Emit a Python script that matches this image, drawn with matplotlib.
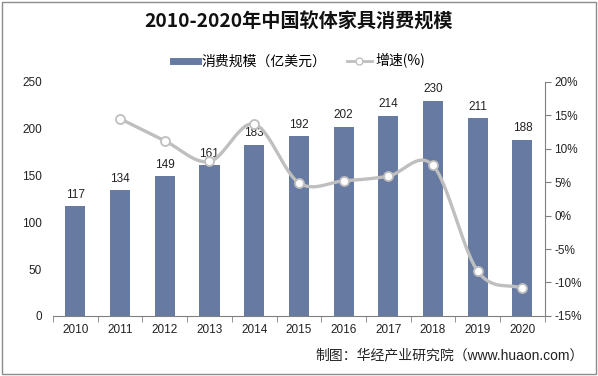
import numpy as np
import matplotlib
matplotlib.use("Agg")
import matplotlib.pyplot as plt
from matplotlib.lines import Line2D
from matplotlib.patches import Rectangle
from matplotlib.ticker import FuncFormatter, FixedLocator

plt.rcParams['font.family'] = ['Liberation Sans', 'Noto Sans CJK SC', 'DejaVu Sans']

years = ['2010', '2011', '2012', '2013', '2014', '2015', '2016', '2017', '2018', '2019', '2020']
scale = [117, 134, 149, 161, 183, 192, 202, 214, 230, 211, 188]
growth = [None, 14.5, 11.2, 8.1, 13.7, 4.9, 5.2, 5.9, 7.5, -8.3, -10.9]

bar_color = '#667aa2'
line_color = '#bfbfbf'
txt_color = '#222222'


def smooth(xs, ys, n=30):
    # catmull-rom curve through the points, like Excel's smoothed line
    xs = np.asarray(xs, float)
    ys = np.asarray(ys, float)
    px = np.concatenate([[2 * xs[0] - xs[1]], xs, [2 * xs[-1] - xs[-2]]])
    py = np.concatenate([[2 * ys[0] - ys[1]], ys, [2 * ys[-1] - ys[-2]]])
    ox, oy = [], []
    t = np.linspace(0, 1, n)
    for i in range(1, len(px) - 2):
        p0, p1, p2, p3 = [np.array([px[j], py[j]]) for j in range(i - 1, i + 3)]
        c1 = p1 + (p2 - p0) / 6
        c2 = p2 - (p3 - p1) / 6
        pts = ((1 - t) ** 3)[:, None] * p1 + (3 * (1 - t) ** 2 * t)[:, None] * c1 \
            + (3 * (1 - t) * t ** 2)[:, None] * c2 + (t ** 3)[:, None] * p2
        ox.extend(pts[:, 0])
        oy.extend(pts[:, 1])
    return ox, oy


fig = plt.figure(figsize=(5.98, 3.76), dpi=100)
ax = fig.add_axes([0.0886, 0.160, 0.8224, 0.622])
x = np.arange(len(years))

ax.bar(x, scale, width=0.45, color=bar_color, zorder=2)
for xi, v in zip(x, scale):
    ax.text(xi, v + 6, str(v), ha='center', va='bottom', fontsize=8.5, color=txt_color, zorder=5)

ax.set_xlim(-0.5, len(years) - 0.5)
ax.set_ylim(0, 250)
ax.set_yticks(range(0, 251, 50))
ax.set_xticks(x)
ax.set_xticklabels(years)
ax.xaxis.set_minor_locator(FixedLocator(np.arange(-0.5, len(years), 1)))
ax.tick_params(axis='x', which='major', length=0, labelsize=8.5, colors=txt_color, pad=6)
ax.tick_params(axis='x', which='minor', length=4, color='#808080', direction='out')
ax.tick_params(axis='y', length=0, labelsize=8.5, colors=txt_color, pad=8)
for s in ['top', 'right', 'left']:
    ax.spines[s].set_visible(False)
ax.spines['bottom'].set_color('#808080')

ax2 = ax.twinx()
gx = [xi for xi, g in zip(x, growth) if g is not None]
gy = [g for g in growth if g is not None]
sx, sy = smooth(gx, gy)
ax2.plot(sx, sy, color=line_color, lw=2.4, zorder=3, solid_capstyle='round')
ax2.plot(gx, gy, 'o', ms=6.5, mfc='white', mec=line_color, mew=1.3, zorder=4)
ax2.set_ylim(-15, 20)
ax2.set_yticks(range(-15, 21, 5))
ax2.yaxis.set_major_formatter(FuncFormatter(lambda v, p: f'{int(v)}%'))
ax2.tick_params(axis='y', length=4, color='#808080', labelsize=8.5, labelcolor=txt_color, pad=3)
for s in ['top', 'left', 'bottom']:
    ax2.spines[s].set_visible(False)
ax2.spines['right'].set_color('#808080')

fig.text(0.5, 0.942, '2010-2020年中国软体家具消费规模', ha='center', va='center',
         fontsize=13.8, fontweight='bold', color='#111111',
         family=['Noto Sans CJK SC', 'DejaVu Sans'])

handles = [Line2D([0], [0], color=bar_color, lw=5),
           Line2D([0], [0], color=line_color, lw=2, marker='o', ms=5, mfc='white', mec=line_color)]
fig.legend(handles, ['消费规模（亿美元）', '增速(%)'], loc='center', bbox_to_anchor=(0.5, 0.838),
           ncol=2, frameon=False, handlelength=1.8, handletextpad=0.25, columnspacing=1.5,
           prop={'family': ['Noto Sans CJK SC', 'DejaVu Sans'], 'size': 10})

fig.text(0.977, 0.055, '制图：华经产业研究院（www.huaon.com）', ha='right', va='center',
         fontsize=10, color=txt_color, family=['Liberation Sans', 'Noto Sans CJK SC'])

fig.patches.append(Rectangle((0.003, 0.005), 0.994, 0.99, transform=fig.transFigure,
                             fill=False, edgecolor='#8c8c8c', lw=1))

fig.savefig('out.png', dpi=100)
